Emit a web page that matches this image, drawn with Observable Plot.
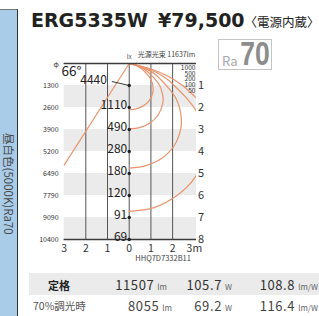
<!DOCTYPE html>
<html><head><meta charset="utf-8">
<script src="https://cdn.jsdelivr.net/npm/d3@7"></script>
<script src="https://cdn.jsdelivr.net/npm/@observablehq/plot@0.6"></script>
<style>
html,body{margin:0;padding:0;background:#fff;}
body{width:319px;height:316px;position:relative;overflow:hidden;font-family:"Noto Sans CJK JP","Noto Sans",sans-serif;}
.abs{position:absolute;white-space:nowrap;line-height:1;}
#chart{position:absolute;left:0;top:0;}
</style></head><body>
<div id="chart"></div>
<div class="abs" style="left:0;top:9px;width:17px;height:307px;background:#a9cce9;border-top:1px solid #777;border-right:1px solid #333;"></div>
<div id="side" class="abs" style="left:2.5px;top:133px;font-size:11.5px;color:#4a4a4a;writing-mode:vertical-rl;text-orientation:sideways;"></div>
<div id="title" class="abs" style="left:31px;top:11px;font-family:'DejaVu Sans';font-weight:bold;font-size:19px;color:#222;"></div>
<div class="abs" style="left:218px;top:39px;width:52px;height:29px;border:1px solid #c4c4c4;"></div>
<div id="ra" class="abs" style="left:222px;top:53.6px;font-size:13px;color:#a8a8a8;"></div>
<div id="raval" class="abs" style="right:49px;top:36.2px;font-family:'Liberation Sans';font-weight:bold;font-size:34px;color:#8c8c8c;transform:scaleX(0.78);transform-origin:right center;"></div>
<div class="abs" style="left:29px;top:273px;width:290px;height:22px;background:#ebebeb;"></div>
<div id="table"></div>
<script>
// ---- data ----
const modelName = "ERG5335W";
const price = "¥79,500";
const priceNote = "〈電源内蔵〉";
const sideLabel = "昼白色(5000K)Ra70";
const raLabel = "Ra";
const raValue = 70;
const fluxNote = "光源光束 11637lm";
const beamAngle = 66;
const distances = [1, 2, 3, 4, 5, 6, 7, 8];
const centerLux = [4440, 1110, 490, 280, 180, 120, 91, 69];
const diameters = [1300, 2600, 3900, 5200, 6490, 7790, 9090, 10400];
const xTicks = [-3, -2, -1, 0, 1, 2, 3];
const luxLevels = [1000, 500, 200, 100, 50];
const beamLine = [[0, 0], [-3.0, 4.62]];
const iso1000 = [[0,0],[0.22,0.06],[0.40,0.13],[0.56,0.23],[0.68,0.34],[0.82,0.48],[0.98,0.69],[1.06,0.89],[1.10,1.10],[1.09,1.30],[0.95,1.65],[0.69,1.90],[0.36,2.05],[0,2.10]];
const iso500 = [[0,0],[0.31,0.08],[0.57,0.18],[0.79,0.33],[0.96,0.48],[1.16,0.68],[1.39,0.98],[1.50,1.26],[1.56,1.56],[1.54,1.84],[1.34,2.33],[0.98,2.69],[0.51,2.90],[0,2.97]];
const iso200 = [[0,0],[0.48,0.13],[0.87,0.29],[1.22,0.51],[1.48,0.76],[1.78,1.08],[2.14,1.56],[2.32,2.02],[2.40,2.49],[2.38,2.95],[2.07,3.74],[1.50,4.31],[0.78,4.64],[0,4.76]];
const iso100 = [[0,0],[0.70,0.18],[1.26,0.41],[1.77,0.73],[2.15,1.08],[2.59,1.52],[3.10,2.18],[3.35,2.81],[3.48,3.48],[3.45,4.11],[3.00,5.22],[2.18,6.01],[1.14,6.55],[0,6.72]];
const iso50 = [[0,0],[1.0,0.25],[1.79,0.58],[2.50,1.03],[3.04,1.52],[3.67,2.15]];
const partNo = "HHQ7D7332B11";
const rowLabels = ["定格", "70%調光時"];
const lumens = ["11507", "8055"];
const watts = ["105.7", "69.2"];
const efficacies = ["108.8", "116.4"];
const units = ["lm", "W", "lm/W"];

// ---- header / side ----
document.getElementById("side").textContent = sideLabel;
document.getElementById("title").innerHTML =
  `<span>${modelName}</span><span style="margin-left:10px">${price}</span><span style="font-family:'Noto Sans CJK JP';font-weight:400;font-size:12.5px;">${priceNote}</span>`;
document.getElementById("ra").textContent = raLabel;
document.getElementById("raval").textContent = raValue;

// ---- table ----
const tbl = document.getElementById("table");
const colRight = [[167, 232, 318], [172, 232, 318]];
const baselines = [289.5, 310];
rowLabels.forEach((lab, r) => {
  const d = document.createElement("div");
  d.className = "abs";
  const fs = r === 0 ? 11 : 10.5;
  d.style.cssText = `left:${r === 0 ? 48 : 33}px;top:${baselines[r] - 0.88 * fs}px;font-size:${fs}px;font-weight:${r === 0 ? "bold" : "normal"};color:${r === 0 ? "#222" : "#555"};`;
  d.textContent = lab;
  tbl.appendChild(d);
  [lumens[r], watts[r], efficacies[r]].forEach((v, c) => {
    const g = document.createElement("div");
    g.className = "abs";
    g.style.cssText = `right:${319 - colRight[r][c]}px;top:${baselines[r] - 0.88 * 13}px;font-size:13px;color:${r === 0 ? "#333" : "#444"};letter-spacing:0.6px;`;
    g.innerHTML = `${v}<span style="font-size:8px;letter-spacing:0;color:#666;margin-left:3px;">${units[c]}</span>`;
    tbl.appendChild(g);
  });
});

// ---- chart ----
const orange = "#e8946c";
const isoSets = [iso1000, iso500, iso200, iso100, iso50];
const iso = isoSets.flatMap((pts, i) => pts.map(([x, y]) => ({lux: luxLevels[i], x, y})));
const rows = distances.map((d, i) => ({d, lux: centerLux[i], phi: diameters[i]}));

const plot = Plot.plot({
  width: 319, height: 262,
  marginLeft: 63.6, marginRight: 123, marginTop: 63, marginBottom: 23,
  x: {domain: [-3, 3.1], axis: null},
  y: {domain: [0, 8], reverse: true, axis: null},
  style: {background: "transparent", fontFamily: "'Noto Sans CJK JP', sans-serif", overflow: "visible"},
  marks: [
    Plot.rect(distances.filter(d => d % 2 === 1), {y1: d => d, y2: d => d + 1, fill: "#ebebeb"}),
    Plot.ruleX(xTicks.filter(d => Math.abs(d) < 3), {y1: 0, y2: 8, stroke: "#555", strokeWidth: 1}),
    Plot.line(beamLine, {x: d => d[0], y: d => d[1], stroke: orange, strokeWidth: 1.2, clip: true}),
    Plot.line(iso, {x: "x", y: "y", z: "lux", curve: "catmull-rom", stroke: orange, strokeWidth: 1.2, clip: true}),
    Plot.ruleY([0, 8], {stroke: "#3c3c3c", strokeWidth: 1.6}),
    Plot.link(rows.slice(0, 1), {x1: 0, y1: "d", x2: -0.8, y2: d => d.d - 0.18, stroke: "#222", strokeWidth: 0.9}),
    Plot.dot(rows, {x: 0, y: "d", r: 1.7, fill: "#222", stroke: null}),
    Plot.text(rows.slice(1), {x: 0, y: "d", text: d => String(d.lux), textAnchor: "end", lineAnchor: "bottom", dx: -2, dy: 1, fontSize: 12, fill: "#222"}),
    Plot.text(rows.slice(0, 1), {x: 0, y: "d", text: d => String(d.lux), textAnchor: "end", dx: -22.3, dy: -5, fontSize: 12, fill: "#222"}),
    Plot.text(rows, {x: -3, y: "d", text: d => String(d.phi), textAnchor: "end", dx: -5.5, fontSize: 7, fill: "#333"}),
    Plot.text(rows, {x: 3.1, y: "d", text: d => String(d.d), textAnchor: "start", dx: 1.5, fontSize: 11, fill: "#333"}),
    Plot.text(["φ"], {x: -3, y: 0, text: d => d, dx: -8, dy: 1, fontSize: 7, fill: "#333"}),
    Plot.text([beamAngle], {x: -3, y: 0, text: d => d + "°", textAnchor: "start", lineAnchor: "bottom", dx: -2.5, dy: 12, fontSize: 13.5, fill: "#222"}),
    Plot.text(["lx"], {x: 0, y: 0, text: d => d, dy: -7, fontSize: 6.5, fill: "#555"}),
    Plot.text([fluxNote], {x: 0, y: 0, text: d => d, textAnchor: "start", dx: 8.5, dy: -9, fontSize: 7, fill: "#444"}),
    Plot.text([luxLevels.join("\n")], {x: 3.1, y: 0, text: d => d, textAnchor: "end", lineAnchor: "top", dx: -1, dy: 2.2, fontSize: 6.6, lineHeight: 0.87, fill: "#333"}),
    Plot.text(xTicks, {x: d => d, y: 8, text: d => d === 3 ? "3m" : String(Math.abs(d)), lineAnchor: "top", dy: 5, fontSize: 10.5, fill: "#333"}),
    Plot.text([partNo], {x: 0, y: 8, text: d => d, textAnchor: "start", dx: 6, dy: 19, fontSize: 7.5, fill: "#444"})
  ]
});
document.getElementById("chart").appendChild(plot);
</script>
</body></html>
